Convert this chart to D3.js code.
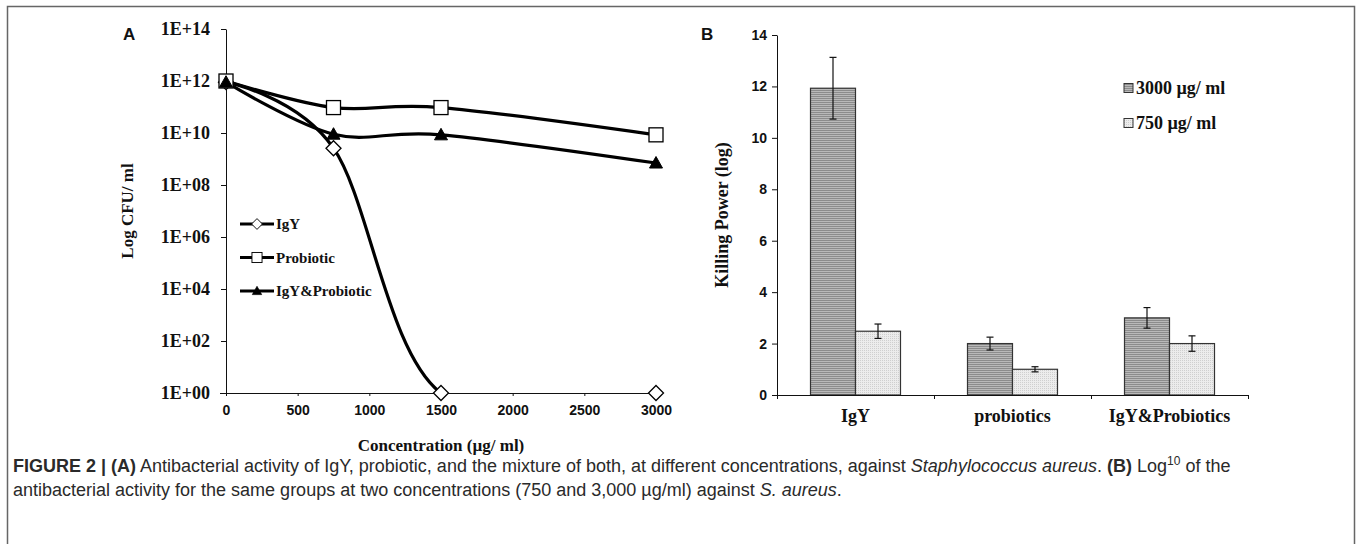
<!DOCTYPE html>
<html>
<head>
<meta charset="utf-8">
<script src="https://cdn.jsdelivr.net/npm/d3@7"></script>
<style>
  body { margin: 0; background: #fff; }
  svg { display: block; }
  .serif { font-family: "Liberation Serif", "Times New Roman", serif; font-weight: bold; fill: #111; }
  .sans { font-family: "Liberation Sans", Arial, sans-serif; font-weight: bold; fill: #111; }
  .axis path, .axis line { stroke: #111; stroke-width: 1; }
</style>
</head>
<body>
<script>
// panel A: log CFU/ml vs concentration
const concentrations = [0, 750, 1500, 3000];
const igyCfu = [9e11, 2.6e9, 1, 1];
const probioticCfu = [1e12, 9.5e10, 9.5e10, 8.5e9];
const mixCfu = [9e11, 9e9, 8.5e9, 7e8];
const seriesNames = ["IgY", "Probiotic", "IgY&Probiotic"];
const xTicksA = [0, 500, 1000, 1500, 2000, 2500, 3000];
const yTicksA = [1e0, 1e2, 1e4, 1e6, 1e8, 1e10, 1e12, 1e14];
const yTickLabelsA = ["1E+00", "1E+02", "1E+04", "1E+06", "1E+08", "1E+10", "1E+12", "1E+14"];

// panel B: killing power
const groups = ["IgY", "probiotics", "IgY&Probiotics"];
const doses = ["3000 µg/ ml", "750 µg/ ml"];
const kill3000 = [11.93, 2.0, 3.0];
const kill750 = [2.48, 1.0, 2.0];
const err3000 = [1.2, 0.25, 0.4];
const err750 = [0.28, 0.1, 0.3];
const yTicksB = [0, 2, 4, 6, 8, 10, 12, 14];

const W = 1357, H = 544;

const svg = d3.select("body").append("svg")
    .attr("width", W)
    .attr("height", H);

const defs = svg.append("defs");

// figure frame (open at the bottom)
svg.append("path")
    .attr("d", "M7.5,548V6.5H1354.5V548")
    .attr("fill", "none")
    .attr("stroke", "#666")
    .attr("stroke-width", 1.5);

// ---------------- Panel A ----------------
const a = { left: 226, right: 656, top: 29, bottom: 393 };

const xA = d3.scaleLinear().domain([0, 3000]).range([a.left, a.right]);
const yA = d3.scaleLog().domain([1, 1e14]).range([a.bottom, a.top]);

defs.append("clipPath").attr("id", "clipA")
    .append("rect")
    .attr("x", a.left - 10).attr("y", a.top)
    .attr("width", a.right - a.left + 20).attr("height", a.bottom - a.top);

const gA = svg.append("g");

gA.append("g")
    .attr("class", "axis sans")
    .attr("transform", "translate(0," + a.bottom + ")")
    .call(d3.axisBottom(xA).tickValues(xTicksA).tickFormat(d3.format("d"))
        .tickSize(3).tickSizeOuter(0).tickPadding(9))
    .call(g => g.selectAll("text").attr("class", "sans").style("font-size", "14px"))
    .call(g => g.select(".domain").attr("d", "M" + (a.left - 6) + ",0.5H" + (a.right + 1)));

gA.append("g")
    .attr("class", "axis")
    .attr("transform", "translate(" + a.left + ",0)")
    .call(d3.axisLeft(yA).tickValues(yTicksA).tickFormat(function (d, i) { return yTickLabelsA[i]; })
        .tickSize(5).tickSizeOuter(0).tickPadding(11))
    .call(g => g.selectAll("text").attr("class", "serif").style("font-size", "18px"));

const seriesA = [
    { name: seriesNames[0], values: igyCfu, marker: "diamond" },
    { name: seriesNames[1], values: probioticCfu, marker: "square" },
    { name: seriesNames[2], values: mixCfu, marker: "triangle" }
];

const lineA = d3.line()
    .x(function (d) { return xA(d[0]); })
    .y(function (d) { return yA(d[1]); })
    .curve(d3.curveCatmullRom.alpha(0));

gA.append("g")
    .attr("clip-path", "url(#clipA)")
    .selectAll("path")
    .data(seriesA)
    .enter().append("path")
    .attr("fill", "none")
    .attr("stroke", "#000")
    .attr("stroke-width", 3.2)
    .attr("d", function (s) { return lineA(concentrations.map(function (c, i) { return [c, s.values[i]]; })); });

function drawMarker(sel, type) {
    if (type === "diamond") {
        sel.append("path").attr("d", "M0,-7.5L7.5,0L0,7.5L-7.5,0Z")
            .attr("fill", "#fff").attr("stroke", "#000").attr("stroke-width", 1.3);
    } else if (type === "square") {
        sel.append("rect").attr("x", -7).attr("y", -7).attr("width", 14).attr("height", 14)
            .attr("fill", "#fff").attr("stroke", "#000").attr("stroke-width", 1.3);
    } else {
        sel.append("path").attr("d", "M0,-6.5L6.5,5L-6.5,5Z")
            .attr("fill", "#000").attr("stroke", "#000").attr("stroke-width", 1);
    }
}

seriesA.forEach(function (s) {
    concentrations.forEach(function (c, i) {
        const m = gA.append("g").attr("transform", "translate(" + xA(c) + "," + yA(s.values[i]) + ")");
        drawMarker(m, s.marker);
    });
});

// legend A
const legA = gA.append("g");
seriesA.forEach(function (s, i) {
    const y = 224 + i * 33.5;
    legA.append("line").attr("x1", 240).attr("x2", 274).attr("y1", y).attr("y2", y)
        .attr("stroke", "#000").attr("stroke-width", 3.2);
    const m = legA.append("g").attr("transform", "translate(257," + y + ") scale(0.72)");
    drawMarker(m, s.marker);
    legA.append("text").attr("class", "serif")
        .attr("x", 276).attr("y", y).attr("dy", "0.35em")
        .style("font-size", "15px")
        .text(s.name);
});

gA.append("text").attr("class", "sans")
    .attr("x", 123).attr("y", 40)
    .style("font-size", "17px")
    .text("A");

gA.append("text").attr("class", "serif")
    .attr("transform", "translate(133," + ((a.top + a.bottom) / 2) + ") rotate(-90)")
    .attr("text-anchor", "middle")
    .style("font-size", "17px")
    .text("Log CFU/ ml");

gA.append("text").attr("class", "serif")
    .attr("x", (a.left + a.right) / 2).attr("y", 451)
    .attr("text-anchor", "middle")
    .style("font-size", "17px")
    .text("Concentration (µg/ ml)");

// ---------------- Panel B ----------------
const b = { left: 777, right: 1248, top: 35, bottom: 395 };

const xB = d3.scaleBand().domain(groups).range([b.left, b.right]);
const xSub = d3.scaleBand().domain(doses).range([0, 90]);
const yB = d3.scaleLinear().domain([0, 14]).range([b.bottom, b.top]);

const p1 = defs.append("pattern").attr("id", "hstripe")
    .attr("patternUnits", "userSpaceOnUse").attr("width", 4).attr("height", 2);
p1.append("rect").attr("width", 4).attr("height", 2).attr("fill", "#b9b9b9");
p1.append("rect").attr("width", 4).attr("height", 1).attr("fill", "#8c8c8c");

const p2 = defs.append("pattern").attr("id", "dots")
    .attr("patternUnits", "userSpaceOnUse").attr("width", 2).attr("height", 2);
p2.append("rect").attr("width", 2).attr("height", 2).attr("fill", "#ececec");
p2.append("rect").attr("width", 1).attr("height", 1).attr("fill", "#cfcfcf");

const fills = ["url(#hstripe)", "url(#dots)"];
const gB = svg.append("g");

const barData = [];
groups.forEach(function (g, i) {
    barData.push({ group: g, dose: doses[0], value: kill3000[i], err: err3000[i], fill: fills[0] });
    barData.push({ group: g, dose: doses[1], value: kill750[i], err: err750[i], fill: fills[1] });
});

const offset = (xB.bandwidth() - 90) / 2;

gB.selectAll(".bar")
    .data(barData)
    .enter().append("rect")
    .attr("class", "bar")
    .attr("x", function (d) { return xB(d.group) + offset + xSub(d.dose); })
    .attr("y", function (d) { return yB(d.value); })
    .attr("width", xSub.bandwidth())
    .attr("height", function (d) { return yB(0) - yB(d.value); })
    .attr("fill", function (d) { return d.fill; })
    .attr("stroke", "#333")
    .attr("stroke-width", 1.2);

const errG = gB.selectAll(".err")
    .data(barData)
    .enter().append("g")
    .attr("class", "err")
    .attr("transform", function (d) { return "translate(" + (xB(d.group) + offset + xSub(d.dose) + xSub.bandwidth() / 2) + ",0)"; })
    .attr("stroke", "#111")
    .attr("stroke-width", 1.2);
errG.append("line")
    .attr("y1", function (d) { return yB(d.value + d.err); })
    .attr("y2", function (d) { return yB(d.value - d.err); });
errG.append("line").attr("x1", -3.5).attr("x2", 3.5)
    .attr("y1", function (d) { return yB(d.value + d.err); })
    .attr("y2", function (d) { return yB(d.value + d.err); });
errG.append("line").attr("x1", -3.5).attr("x2", 3.5)
    .attr("y1", function (d) { return yB(d.value - d.err); })
    .attr("y2", function (d) { return yB(d.value - d.err); });

gB.append("g")
    .attr("class", "axis")
    .attr("transform", "translate(" + b.left + ",0)")
    .call(d3.axisLeft(yB).tickValues(yTicksB).tickSize(5).tickSizeOuter(0).tickPadding(5))
    .call(g => g.selectAll("text").attr("class", "sans").style("font-size", "14px"));

const xAxisB = gB.append("g")
    .attr("class", "axis")
    .attr("transform", "translate(0," + b.bottom + ")")
    .call(d3.axisBottom(xB).tickSize(0).tickSizeOuter(0).tickPadding(14))
    .call(g => g.selectAll("text").attr("class", "serif").style("font-size", "18px"));

xAxisB.selectAll(".sep")
    .data(groups.map(function (g) { return xB(g); }).concat([b.right]))
    .enter().append("line")
    .attr("class", "sep")
    .attr("x1", function (d) { return d + 0.5; })
    .attr("x2", function (d) { return d + 0.5; })
    .attr("y1", 0).attr("y2", 4);

// legend B
doses.forEach(function (d, i) {
    const y = 88 + i * 35;
    gB.append("rect")
        .attr("x", 1124).attr("y", y - 4.5).attr("width", 9).attr("height", 9)
        .attr("fill", fills[i]).attr("stroke", "#333").attr("stroke-width", 1);
    gB.append("text").attr("class", "serif")
        .attr("x", 1136).attr("y", y).attr("dy", "0.35em")
        .style("font-size", "18px")
        .text(d);
});

gB.append("text").attr("class", "sans")
    .attr("x", 701).attr("y", 40)
    .style("font-size", "17px")
    .text("B");

gB.append("text").attr("class", "serif")
    .attr("transform", "translate(728," + ((b.top + b.bottom) / 2) + ") rotate(-90)")
    .attr("text-anchor", "middle")
    .style("font-size", "18px")
    .text("Killing Power (log)");

// ---------------- Caption ----------------
const cap = svg.append("g")
    .style("font-family", "'Liberation Sans', Arial, sans-serif")
    .style("font-size", "18px")
    .attr("fill", "#2a2a2a");

const line1 = cap.append("text").attr("x", 13).attr("y", 472);
line1.append("tspan").style("font-weight", "bold").text("FIGURE 2 | (A)");
line1.append("tspan").text(" Antibacterial activity of IgY, probiotic, and the mixture of both, at different concentrations, against ");
line1.append("tspan").style("font-style", "italic").text("Staphylococcus aureus");
line1.append("tspan").text(". ");
line1.append("tspan").style("font-weight", "bold").text("(B)");
line1.append("tspan").text(" Log");
line1.append("tspan").attr("dy", "-7").style("font-size", "12px").text("10");
line1.append("tspan").attr("dy", "7").text(" of the");

const line2 = cap.append("text").attr("x", 13).attr("y", 496);
line2.append("tspan").text("antibacterial activity for the same groups at two concentrations (750 and 3,000 µg/ml) against ");
line2.append("tspan").style("font-style", "italic").text("S. aureus");
line2.append("tspan").text(".");
</script>
</body>
</html>
